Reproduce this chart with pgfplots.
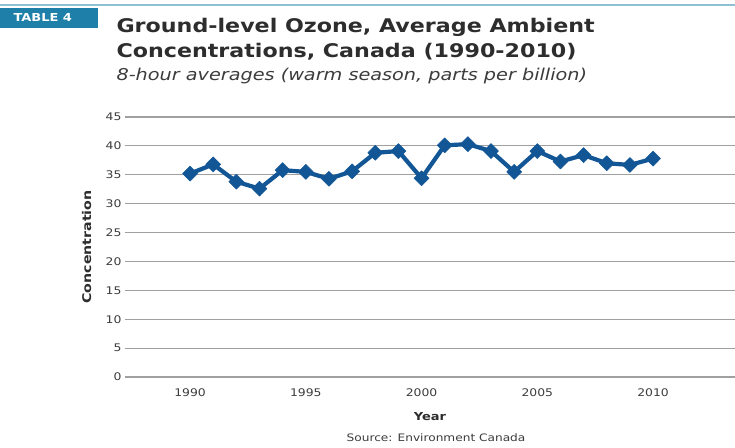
\documentclass[border=0pt]{standalone}
\usepackage{fontspec}
\setmainfont{DejaVu Sans}[FakeStretch=1.18]
\usepackage{pgfplots}
\pgfplotsset{compat=1.18}
\definecolor{ozblue}{RGB}{18,86,150}
\definecolor{gridgray}{RGB}{160,160,160}
\definecolor{tabteal}{RGB}{30,128,168}
\definecolor{titlegray}{RGB}{45,45,45}
\definecolor{labgray}{RGB}{60,60,60}

\pgfplotstableread{
year conc
1990 35.2
1991 36.8
1992 33.8
1993 32.6
1994 35.8
1995 35.5
1996 34.3
1997 35.6
1998 38.8
1999 39.1
2000 34.4
2001 40.1
2002 40.3
2003 39.1
2004 35.5
2005 39.1
2006 37.3
2007 38.4
2008 37.0
2009 36.7
2010 37.8
}\ozone

\begin{document}
\begin{tikzpicture}
\useasboundingbox (0pt,0pt) rectangle (735pt,447pt);
\fill[white] (0pt,0pt) rectangle (735pt,447pt);
% header band
\draw[tabteal!50, line width=2pt] (0pt,442pt) -- (735pt,442pt);
\fill[tabteal] (0pt,419pt) rectangle (98pt,439pt);
\node[anchor=west, text=white, font=\bfseries\fontsize{11}{12}\selectfont] at (10pt,429.5pt) {TABLE 4};
\node[anchor=base west, text=titlegray, font=\bfseries\fontsize{18.8}{20}\selectfont] at (113pt,414pt) {Ground-level Ozone, Average Ambient};
\node[anchor=base west, text=titlegray, font=\bfseries\fontsize{18.8}{20}\selectfont] at (113pt,389pt) {Concentrations, Canada (1990-2010)};
\node[anchor=base west, text=labgray, font=\itshape\fontsize{16.3}{18}\selectfont] at (113pt,366pt) {8-hour averages (warm season, parts per billion)};

\begin{axis}[
  at={(125pt,70pt)}, anchor=south west,
  scale only axis,
  width=610pt, height=260pt,
  xmin=1987.19, xmax=2013.54,
  ymin=0, ymax=45,
  ytick={0,5,...,45},
  xtick={1990,1995,...,2010},
  x tick label style={/pgf/number format/1000 sep=, yshift=-8pt},
  ymajorgrids,
  grid style={gridgray, line width=1.2pt},
  axis line style={draw=none},
  tick style={draw=none},
  ticklabel style={text=labgray, font=\fontsize{10.5}{12}\selectfont},
  /pgf/number format/assume math mode=true,
  xlabel={Year},
  ylabel={Concentration},
  xlabel style={at={(axis description cs:0.5,-0.154)}, anchor=center, font=\bfseries\fontsize{11}{12}\selectfont, text=titlegray},
  ylabel style={at={(axis description cs:-0.063,0.5)}, anchor=center, font=\bfseries\fontsize{12}{13}\selectfont, text=titlegray},
  clip=false,
]
\addplot[ozblue, line width=4.2pt, line join=round, mark=diamond*, mark size=7.5pt,
  mark options={solid, xscale=1.33, line width=0.5pt}] table[x=year, y=conc] {\ozone};
\end{axis}
\node[anchor=center, text=labgray, font=\fontsize{10.3}{12}\selectfont] at (436pt,9pt) {Source: Environment Canada};
\end{tikzpicture}
\end{document}
